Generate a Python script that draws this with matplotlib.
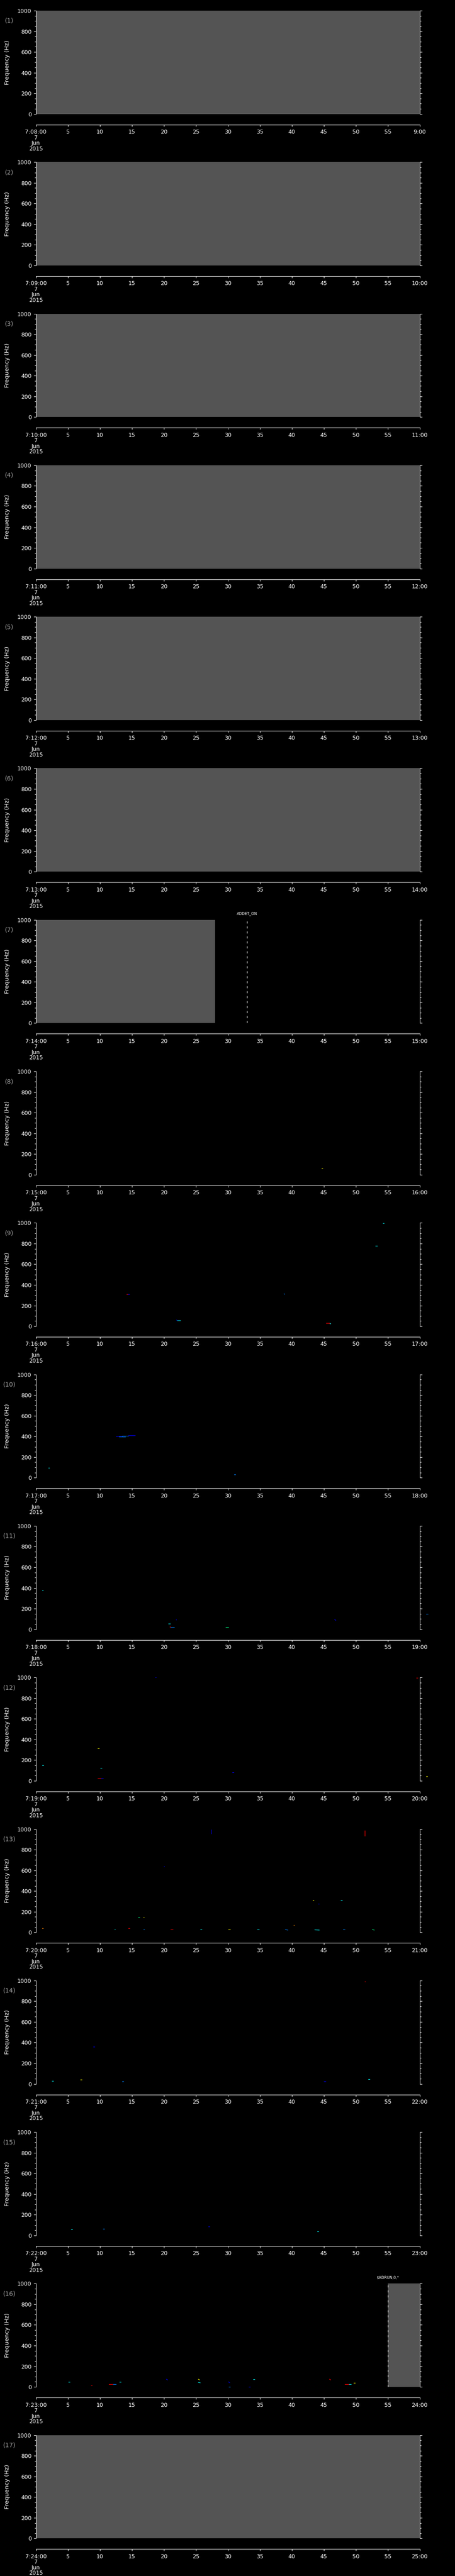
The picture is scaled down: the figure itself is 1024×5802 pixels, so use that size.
import matplotlib
matplotlib.use("Agg")
import matplotlib.pyplot as plt
from matplotlib.ticker import MultipleLocator

# 17 one-minute panels of a spectrogram, 7 Jun 2015, 7:08 .. 7:25
start_minutes = list(range(8, 25))
date_lines = ["7", "Jun", "2015"]

# grey "no data" spans (seconds) per panel
gray_spans = ([[(0, 60)]] * 6 + [[(0, 28)]] + [[]] * 8 + [[(55, 60)]] + [[(0, 60)]])

# command markers: panel index -> (second, label)
events = {6: (33, "ADDET_ON"), 15: (55, "$ADRUN,0,*")}

R, O, Y, G, C, LB, B = "#ff0000", "#ff8000", "#ffff00", "#00ff80", "#00ffff", "#0080ff", "#0000ff"

# detected specks: (t0, t1, f0, f1, colour)
specks_p8 = [(44.7, 44.8, 65, 65, Y)]
specks_p9 = [(14.2, 14.4, 311, 311, R), (14.4, 14.6, 311, 311, B),
             (38.8, 38.9, 314, 309, LB), (22.0, 22.1, 60, 55, B),
             (22.1, 22.6, 55, 55, C), (45.4, 45.9, 29, 29, R),
             (45.9, 46.1, 26, 26, C), (53.1, 53.4, 778, 778, C),
             (54.3, 54.4, 998, 998, C)]
specks_p10 = [(12.5, 13.5, 400, 400, B), (13.5, 14.5, 404, 404, LB),
              (14.5, 15.5, 408, 408, B), (13.0, 14.0, 395, 395, LB),
              (2.0, 2.1, 95, 95, C), (31.0, 31.2, 30, 30, LB)]
specks_p11 = [(1.0, 1.1, 378, 378, C), (21.9, 22.0, 95, 95, B),
              (20.7, 21.0, 56, 56, C), (20.9, 21.1, 24, 24, R),
              (21.1, 21.6, 22, 22, LB), (29.7, 30.1, 22, 22, G),
              (46.7, 46.9, 97, 85, B), (61.0, 61.3, 150, 150, LB)]
specks_p12 = [(1.0, 1.2, 151, 151, C), (9.7, 9.9, 312, 312, Y),
              (10.1, 10.3, 123, 123, C), (9.7, 10.2, 24, 24, R),
              (10.2, 10.5, 24, 24, B), (18.7, 18.8, 1000, 1000, B),
              (30.7, 30.9, 81, 81, B), (59.5, 59.7, 998, 998, R),
              (61.0, 61.2, 42, 42, Y)]
specks_p13 = [(1.0, 1.1, 41, 41, O), (12.3, 12.4, 26, 26, C),
              (14.5, 14.7, 39, 39, R), (16.0, 16.2, 146, 146, G),
              (16.8, 16.9, 146, 146, Y), (16.8, 17.0, 26, 26, LB),
              (20.0, 20.1, 635, 635, B), (21.1, 21.4, 26, 26, R),
              (25.7, 25.9, 26, 26, C), (27.4, 27.4, 993, 956, B),
              (30.1, 30.4, 26, 26, Y), (34.6, 34.9, 26, 26, C),
              (39.0, 39.4, 26, 22, LB), (40.3, 40.4, 70, 70, O),
              (43.3, 43.4, 309, 309, Y), (44.1, 44.3, 275, 275, B),
              (43.6, 44.3, 24, 22, C), (47.7, 47.9, 309, 309, C),
              (48.0, 48.3, 26, 26, LB), (51.4, 51.4, 986, 935, R),
              (52.6, 52.9, 26, 22, G)]
specks_p14 = [(9.0, 9.2, 360, 360, B), (51.4, 51.5, 990, 990, R),
              (2.5, 2.7, 30, 30, C), (7.0, 7.2, 40, 40, Y),
              (13.5, 13.7, 25, 25, LB), (45.0, 45.3, 25, 25, B),
              (52.0, 52.2, 45, 45, C)]
specks_p15 = [(5.5, 5.7, 60, 60, C), (10.5, 10.7, 65, 65, LB),
              (27.0, 27.2, 85, 85, B), (44.0, 44.2, 40, 40, C)]
specks_p16 = [(5.1, 5.3, 49, 49, C), (8.6, 8.8, 14, 14, R),
              (11.4, 12.1, 27, 27, R), (12.1, 12.5, 27, 27, LB),
              (13.1, 13.3, 49, 49, C), (20.4, 20.6, 74, 68, B),
              (25.4, 25.6, 74, 68, Y), (25.4, 25.7, 43, 40, C),
              (30.1, 30.3, 49, 40, B), (30.2, 30.4, 2, 2, LB),
              (33.3, 33.5, 2, 2, B), (34.0, 34.2, 74, 74, C),
              (45.9, 46.1, 74, 68, R), (48.3, 49.0, 27, 27, R),
              (49.0, 49.3, 27, 27, C), (49.7, 49.9, 40, 40, Y)]
specks = {7: specks_p8, 8: specks_p9, 9: specks_p10, 10: specks_p11, 11: specks_p12,
          12: specks_p13, 13: specks_p14, 14: specks_p15, 15: specks_p16}

W, H, DPI = 1024, 5802, 100
plt.rcParams['font.family'] = ['DejaVu Sans']
fig = plt.figure(figsize=(W / DPI, H / DPI), dpi=DPI, facecolor="black")

left, right = 80.7, 944.5
pitch, top0, ph = H / 17, 24, 232.7
aw = right - left

for i, m in enumerate(start_minutes):
    top = top0 + i * pitch
    ax = fig.add_axes([left / W, 1 - (top + ph) / H, aw / W, ph / H])
    ax.set_facecolor("black")
    ax.set_xlim(0, 60)
    ax.set_ylim(0, 1000)

    for a, b in gray_spans[i]:
        ax.axvspan(a, b, color="#545454", lw=0)

    for t0, t1, f0, f1, c in specks.get(i, []):
        ax.plot([t0, t1], [f0, f1], color=c, lw=0.8, solid_capstyle="projecting", clip_on=False)

    if i in events:
        t, lab = events[i]
        ax.axvline(t, color="white", lw=0.8, dashes=(4.3, 5.8))
        ax.text(t, 1040, lab, ha="center", va="bottom",
                color="white", fontsize=6, clip_on=False)

    for s in ["left", "right", "bottom"]:
        ax.spines[s].set_color("white")
        ax.spines[s].set_linewidth(0.8)
    ax.spines["top"].set_visible(False)
    ax.spines["bottom"].set_position(("outward", 17.3))

    ax.yaxis.set_major_locator(MultipleLocator(200))
    ax.yaxis.set_minor_locator(MultipleLocator(50))
    ax.tick_params(axis="y", which="both", left=True, right=True, colors="white",
                   labelsize=9, pad=3.5, width=0.8)
    ax.tick_params(axis="y", which="major", length=3.5)
    ax.tick_params(axis="y", which="minor", length=2.3)

    ticks = list(range(0, 61, 5))
    labels = ["7:%02d:00\n" % m + "\n".join(date_lines)] + [str(t) for t in ticks[1:-1]] + ["%d:00" % (m + 1)]
    ax.set_xticks(ticks)
    ax.set_xticklabels(labels)
    ax.tick_params(axis="x", colors="white", labelsize=9, length=3, width=0.8, pad=4.5)
    for lbl in ax.get_xticklabels():
        lbl.set_linespacing(0.95)
        lbl.set_va("top")

    yl = ax.get_yticklabels()
    yl[0].set_va("baseline")
    yl[-1].set_va("top")

    ax.set_ylabel("Frequency (Hz)", color="white", fontsize=9.5)
    ax.yaxis.set_label_coords(-(left - 23) / aw, 0.5)
    ax.text(-(left - 21) / aw, 1 - 23 / ph, "(%d)" % (i + 1), transform=ax.transAxes,
            ha="center", va="center", color="#a0a0a0", fontsize=10)

fig.savefig("out.png", dpi=DPI, facecolor="black")
